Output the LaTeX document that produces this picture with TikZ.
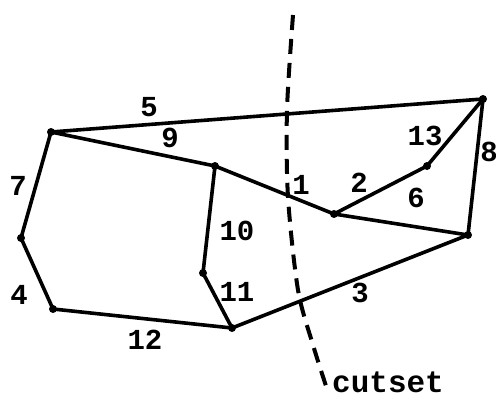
\documentclass[tikz,border=0pt]{standalone}
\usepackage{fontspec}
\setmonofont{Liberation Mono}
\begin{document}
\begin{tikzpicture}[x=1pt,y=-1pt,
  dot/.style={circle,fill=black,inner sep=0pt,minimum size=8pt},
  edge/.style={line width=3.6pt,line cap=round,line join=round},
  lbl/.style={inner sep=0pt,font=\ttfamily\bfseries\fontsize{29}{29}\selectfont},
  cut/.style={line width=4pt,dash pattern=on 15pt off 9pt}]
\useasboundingbox (0,0) rectangle (496,396);
\node[dot] (A) at (51,132) {};
\node[dot] (B) at (483,99) {};
\node[dot] (C) at (21,238) {};
\node[dot] (D) at (53,309) {};
\node[dot] (E) at (215,166) {};
\node[dot] (F) at (203,273) {};
\node[dot] (G) at (232,328) {};
\node[dot] (H) at (334,214) {};
\node[dot] (I) at (427,166) {};
\node[dot] (J) at (468,235) {};
\draw[edge] (A.center) -- (B.center);
\draw[edge] (A.center) -- (E.center);
\draw[edge] (E.center) -- (H.center);
\draw[edge] (H.center) -- (I.center);
\draw[edge] (I.center) -- (B.center);
\draw[edge] (H.center) -- (J.center);
\draw[edge] (B.center) -- (J.center);
\draw[edge] (A.center) -- (C.center);
\draw[edge] (C.center) -- (D.center);
\draw[edge] (D.center) -- (G.center);
\draw[edge] (E.center) -- (F.center);
\draw[edge] (F.center) -- (G.center);
\draw[edge] (G.center) -- (J.center);
\node[lbl] (l5) at (149,107) {5};
\node[lbl] (l9) at (170,138) {9};
\node[lbl] (l7) at (18,186) {7};
\node[lbl] (l4) at (19,295) {4};
\node[lbl] (l10) at (237,231) {10};
\node[lbl] (l11) at (237,292) {11};
\node[lbl] (l12) at (145,340) {12};
\node[lbl] (l3) at (360,293) {3};
\node[lbl] (l1) at (301,185) {1};
\node[lbl] (l2) at (359,183) {2};
\node[lbl] (l6) at (416,198) {6};
\node[lbl] (l13) at (425,136) {13};
\node[lbl] (l8) at (489,152) {8};
\node[lbl,anchor=west,font=\ttfamily\bfseries\fontsize{31}{31}\selectfont] (lc) at (332,382) {cutset};
\draw[cut] plot[smooth] coordinates {(293,15) (287,110) (288,197) (298,290) (313,345) (327,389)};
\end{tikzpicture}
\end{document}
